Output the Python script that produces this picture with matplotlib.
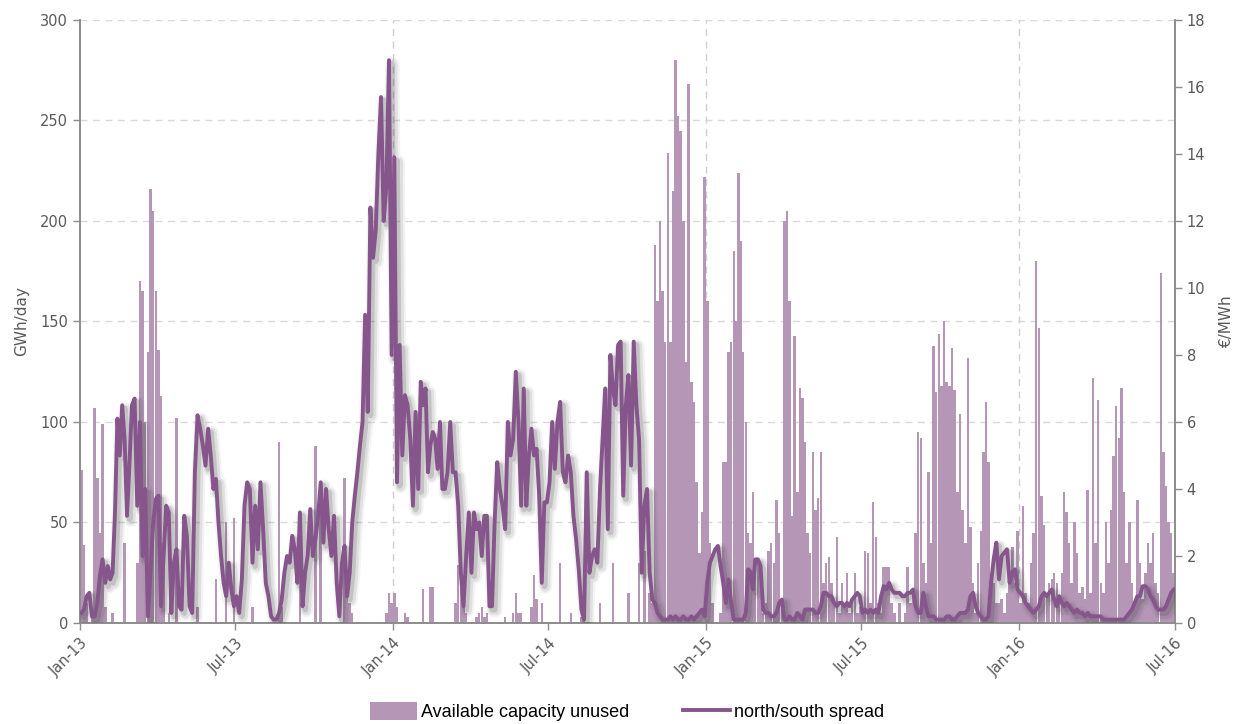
import numpy as np
import pandas as pd
import matplotlib
matplotlib.use("Agg")
import matplotlib.pyplot as plt
import matplotlib.dates as mdates
import matplotlib.patheffects as pe
from matplotlib.patches import Patch
from matplotlib.lines import Line2D

# North/south spread, EUR/MWh: ten readings per month (one row per month)
spread_2013 = [
    [0.3, 0.4, 0.8, 0.9, 0.2, 0.2, 0.6, 1.4, 1.9, 1.2],
    [1.7, 1.3, 1.5, 3.3, 6.1, 5.0, 6.5, 5.5, 3.2, 4.7],
    [6.5, 6.7, 3.5, 6.0, 2.0, 4.0, 0.2, 1.5, 3.0, 3.7],
    [3.8, 0.5, 2.0, 3.5, 3.3, 0.3, 1.8, 2.2, 0.5, 0.4],
    [3.2, 2.6, 0.5, 0.3, 4.5, 6.2, 5.8, 5.3, 4.7, 5.8],
    [5.0, 4.0, 4.3, 3.0, 2.0, 1.2, 0.8, 1.8, 1.0, 0.5],
    [0.8, 0.3, 1.3, 3.5, 4.2, 4.0, 1.8, 3.5, 2.2, 4.2],
    [2.8, 1.2, 0.8, 0.2, 0.1, 0.1, 0.3, 0.7, 1.5, 2.0],
    [1.8, 2.6, 2.2, 1.2, 3.3, 0.5, 1.5, 2.0, 3.4, 2.0],
    [2.5, 3.2, 4.2, 2.4, 4.0, 2.8, 2.0, 3.2, 1.2, 0.2],
    [1.8, 2.3, 0.8, 1.5, 3.0, 3.8, 4.5, 5.3, 6.0, 9.2],
    [6.3, 12.4, 10.9, 11.7, 14.0, 15.7, 12.0, 13.0, 16.8, 8.0],
]
spread_2014 = [
    [13.9, 4.2, 8.3, 5.0, 6.8, 6.5, 5.5, 3.5, 6.3, 4.0],
    [7.2, 6.5, 7.0, 4.5, 5.3, 5.7, 5.5, 4.6, 6.0, 4.0],
    [4.0, 4.5, 6.0, 4.5, 4.5, 3.5, 1.5, 0.5, 2.0, 3.3],
    [1.5, 3.3, 2.8, 3.0, 2.0, 3.2, 3.2, 0.5, 0.5, 3.0],
    [4.8, 4.0, 3.5, 2.8, 6.0, 5.0, 5.5, 7.5, 6.0, 3.5],
    [7.0, 3.5, 5.0, 5.8, 5.0, 5.2, 3.8, 1.2, 3.6, 3.6],
    [4.2, 6.0, 4.6, 6.0, 6.6, 4.5, 4.2, 5.0, 4.5, 3.2],
    [2.5, 1.6, 0.4, 0.1, 4.5, 1.5, 2.0, 2.2, 1.8, 4.0],
    [5.5, 7.0, 2.8, 8.0, 7.0, 6.5, 8.3, 8.4, 3.8, 6.5],
    [7.4, 4.7, 8.4, 6.5, 5.5, 1.5, 3.5, 4.0, 1.5, 0.7],
    [0.6, 0.3, 0.2, 0.1, 0.1, 0.1, 0.2, 0.1, 0.2, 0.1],
    [0.1, 0.2, 0.1, 0.1, 0.2, 0.1, 0.2, 0.3, 0.4, 0.2],
]
spread_2015 = [
    [1.2, 1.8, 2.0, 2.2, 2.3, 1.7, 1.2, 0.6, 1.3, 0.6],
    [0.1, 0.1, 0.1, 0.1, 0.1, 0.3, 1.6, 1.5, 1.0, 1.9],
    [1.9, 1.7, 0.4, 0.3, 0.3, 0.2, 0.2, 0.3, 0.6, 0.7],
    [0.1, 0.1, 0.2, 0.1, 0.1, 0.3, 0.2, 0.1, 0.4, 0.4],
    [0.4, 0.4, 0.3, 0.3, 0.5, 0.9, 0.9, 0.8, 0.8, 0.6],
    [0.5, 0.6, 0.6, 0.5, 0.6, 0.5, 0.7, 0.8, 0.9, 0.8],
    [0.3, 0.4, 0.3, 0.4, 0.3, 0.4, 0.3, 0.8, 1.1, 1.0],
    [1.2, 1.0, 0.9, 0.9, 0.9, 0.8, 0.8, 0.9, 0.9, 1.0],
    [0.5, 0.3, 0.3, 0.9, 0.5, 0.2, 0.2, 0.2, 0.1, 0.1],
    [0.1, 0.1, 0.2, 0.2, 0.1, 0.1, 0.2, 0.3, 0.3, 0.3],
    [0.4, 0.8, 0.9, 0.5, 0.3, 0.2, 0.1, 0.1, 0.2, 1.2],
    [1.9, 2.4, 1.3, 2.0, 2.1, 2.2, 1.2, 1.5, 1.6, 1.0],
]
spread_2016 = [
    [0.9, 0.8, 0.6, 0.5, 0.4, 0.3, 0.4, 0.5, 0.8, 0.9],
    [0.8, 0.9, 1.0, 0.7, 0.5, 0.8, 0.6, 0.5, 0.6, 0.5],
    [0.4, 0.3, 0.4, 0.3, 0.3, 0.2, 0.3, 0.2, 0.2, 0.2],
    [0.2, 0.2, 0.1, 0.1, 0.1, 0.1, 0.1, 0.1, 0.1, 0.1],
    [0.1, 0.2, 0.3, 0.4, 0.6, 0.8, 0.8, 1.1, 1.1, 1.0],
    [0.8, 0.7, 0.5, 0.4, 0.4, 0.4, 0.5, 0.7, 0.9, 1.0],
]

# Available capacity left unused, GWh/day: ten readings per month
capacity_2013 = [
    [76, 39, 10, 0, 5, 107, 72, 45, 99, 8],
    [0, 0, 5, 0, 0, 0, 0, 40, 0, 0],
    [0, 0, 30, 170, 165, 100, 135, 216, 205, 165],
    [136, 113, 40, 0, 5, 0, 0, 102, 0, 0],
    [0, 0, 0, 0, 0, 8, 0, 0, 0, 0],
    [0, 0, 22, 0, 0, 0, 50, 0, 0, 52],
    [0, 0, 0, 0, 0, 0, 8, 0, 0, 0],
    [0, 0, 0, 0, 0, 0, 90, 8, 0, 0],
    [0, 0, 0, 0, 45, 0, 0, 0, 0, 0],
    [88, 0, 65, 0, 0, 0, 0, 0, 0, 0],
    [0, 72, 15, 10, 5, 0, 0, 0, 0, 0],
    [0, 0, 0, 0, 0, 0, 0, 5, 15, 10],
]
capacity_2014 = [
    [15, 8, 0, 0, 5, 3, 0, 0, 0, 0],
    [0, 17, 0, 0, 18, 18, 0, 0, 0, 0],
    [0, 0, 0, 0, 10, 29, 20, 10, 5, 0],
    [0, 0, 3, 5, 8, 3, 5, 0, 0, 0],
    [0, 0, 0, 3, 0, 0, 5, 15, 5, 5],
    [0, 0, 0, 8, 24, 12, 0, 10, 0, 0],
    [0, 0, 0, 0, 30, 0, 0, 0, 5, 0],
    [0, 0, 3, 8, 0, 0, 0, 0, 0, 10],
    [0, 0, 0, 0, 30, 0, 0, 0, 0, 0],
    [15, 0, 0, 0, 30, 0, 36, 0, 15, 10],
    [188, 160, 200, 165, 140, 234, 140, 215, 280, 252],
    [245, 200, 130, 268, 120, 110, 70, 35, 55, 222],
]
capacity_2015 = [
    [160, 40, 10, 0, 0, 5, 80, 80, 135, 140],
    [185, 150, 224, 190, 135, 100, 45, 40, 65, 30],
    [30, 25, 5, 10, 36, 40, 30, 61, 45, 10],
    [200, 205, 160, 53, 143, 65, 117, 112, 90, 45],
    [35, 85, 56, 62, 85, 20, 30, 33, 20, 10],
    [43, 5, 20, 10, 25, 5, 10, 25, 5, 8],
    [5, 36, 35, 10, 60, 43, 10, 5, 28, 28],
    [28, 10, 5, 0, 10, 0, 5, 28, 10, 15],
    [45, 95, 92, 30, 20, 75, 40, 138, 115, 144],
    [118, 150, 120, 118, 137, 116, 65, 104, 56, 40],
    [132, 48, 20, 5, 30, 46, 85, 110, 80, 25],
    [20, 10, 10, 12, 5, 15, 25, 38, 20, 46],
]
capacity_2016 = [
    [10, 58, 15, 10, 30, 45, 180, 147, 63, 49],
    [15, 20, 22, 25, 20, 10, 25, 65, 55, 40],
    [20, 50, 35, 15, 18, 12, 66, 15, 122, 40],
    [111, 20, 15, 50, 30, 56, 83, 108, 92, 117],
    [65, 30, 50, 20, 10, 61, 30, 12, 25, 40],
    [30, 45, 20, 15, 174, 85, 68, 50, 45, 25],
]

tick_dates = pd.date_range("2013-01-01", "2016-07-01", freq="6MS")
year_lines = pd.date_range("2014-01-01", "2016-01-01", freq="YS")

spread = np.array(spread_2013 + spread_2014 + spread_2015 + spread_2016, dtype=float).ravel()
capacity = np.array(capacity_2013 + capacity_2014 + capacity_2015 + capacity_2016, dtype=float).ravel()

# Place the ten readings of each month evenly across that month
months = pd.date_range("2013-01-01", periods=len(spread) // 10, freq="MS")
xs, widths = [], []
for m in months:
    step = m.days_in_month / 10.0
    base = mdates.date2num(m)
    xs.extend(base + (np.arange(10) + 0.5) * step)
    widths.extend([step * 0.95] * 10)
xs = np.array(xs)

BAR = "#b596b7"
LINE = "#86558b"
GREY_TXT = "#595959"
SPINE = "#8c8c8c"

fig = plt.figure(figsize=(12.54, 7.24), dpi=100)
ax = fig.add_axes([0.0638, 0.1395, 0.8732, 0.8329])
ax2 = ax.twinx()

ax.bar(xs, capacity, width=widths, color=BAR, linewidth=0, align="center", zorder=2)

shadow = [
    pe.SimpleLineShadow(offset=(2.5, -3), shadow_color="#404040", alpha=0.06, linewidth=10),
    pe.SimpleLineShadow(offset=(2.5, -3), shadow_color="#404040", alpha=0.10, linewidth=7),
    pe.SimpleLineShadow(offset=(2, -2.5), shadow_color="#404040", alpha=0.18, linewidth=4),
    pe.Normal(),
]
ax2.plot(xs, spread, color=LINE, linewidth=2.8, solid_joinstyle="round",
         path_effects=shadow, zorder=3)

xmin = mdates.date2num(pd.Timestamp("2013-01-01"))
xmax = mdates.date2num(pd.Timestamp("2016-07-01"))
ax.set_xlim(xmin, xmax)
ax.set_ylim(0, 300)
ax2.set_ylim(0, 18)
ax.set_yticks(np.arange(0, 301, 50))
ax2.set_yticks(np.arange(0, 19, 2))

ax.set_xticks(mdates.date2num(tick_dates))
ax.set_xticklabels([d.strftime("%b-%y") for d in tick_dates], rotation=45,
                   ha="right", va="top", rotation_mode="anchor")

# Grid: dashed horizontal lines and yearly dashed verticals
ax.yaxis.grid(True, color="#d9d9d9", linestyle=(0, (5, 4)), linewidth=1.0, zorder=0)
for d in year_lines:
    ax.axvline(mdates.date2num(d), color="#cfcfcf", linestyle=(0, (5, 4)), linewidth=1.0, zorder=0)
ax.set_axisbelow(True)

for a in (ax, ax2):
    a.spines["top"].set_visible(False)
    for s in ("left", "right", "bottom"):
        a.spines[s].set_color(SPINE)
        a.spines[s].set_linewidth(1.2)
    a.tick_params(colors=GREY_TXT, labelsize=10.5, length=5, width=1, direction="out")
    a.tick_params(axis="both", which="both", color=SPINE)
ax.tick_params(axis="x", pad=4)

ax.set_ylabel("GWh/day", color=GREY_TXT, fontsize=11, labelpad=8)
ax2.set_ylabel("€/MWh", color=GREY_TXT, fontsize=11, labelpad=10)

handles = [
    Patch(facecolor=BAR, edgecolor="none", label="Available capacity unused"),
    Line2D([0], [0], color=LINE, linewidth=2.8, label="north/south spread"),
]
fig.legend(handles=handles, loc="center", bbox_to_anchor=(0.5, 0.017), ncol=2,
           frameon=False, handlelength=2.6, handleheight=1.1, columnspacing=3.0,
           handletextpad=0.2,
           prop={"family": ["Liberation Sans Narrow", "Liberation Sans", "DejaVu Sans"], "size": 13})

fig.savefig("out.png", dpi=100)
